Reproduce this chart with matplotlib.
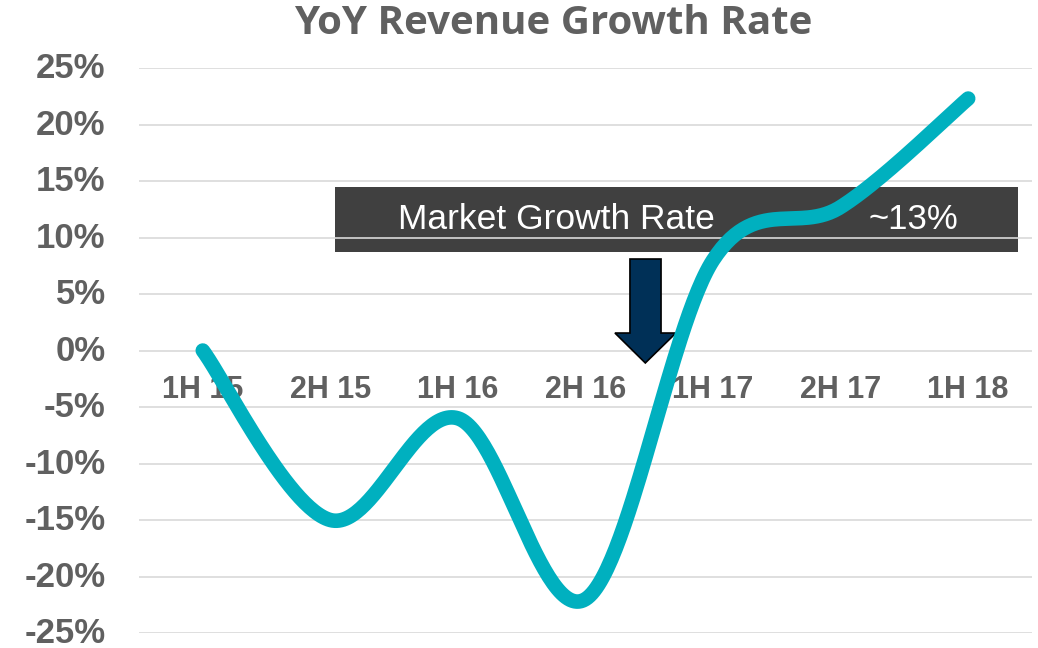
import numpy as np
import matplotlib
matplotlib.use("Agg")
import matplotlib.pyplot as plt
import matplotlib.transforms as mtrans
from matplotlib.patches import Rectangle, Polygon

# chart data
periods = ["1H 15", "2H 15", "1H 16", "2H 16", "1H 17", "2H 17", "1H 18"]
growth = [0.0, -15.0, -6.0, -22.0, 8.0, 12.7, 22.3]
y_ticks = [-25, -20, -15, -10, -5, 0, 5, 10, 15, 20, 25]
market_label = "Market Growth Rate"
market_value = "~13%"

grey = "#606060"
teal = "#00B0BF"


def smooth_line(xs, ys, steps=60):
    """Excel style smoothed line: cubic bezier through every point."""
    pts = np.column_stack([xs, ys]).astype(float)
    n = len(pts)
    out = []
    t = np.linspace(0, 1, steps)[:, None]
    for i in range(n - 1):
        p0 = pts[max(i - 1, 0)]
        p1 = pts[i]
        p2 = pts[i + 1]
        p3 = pts[min(i + 2, n - 1)]
        c1 = p1 + (p2 - p0) / 6.0
        c2 = p2 - (p3 - p1) / 6.0
        seg = ((1 - t) ** 3) * p1 + 3 * ((1 - t) ** 2) * t * c1 \
            + 3 * (1 - t) * t ** 2 * c2 + t ** 3 * p2
        out.append(seg if i == 0 else seg[1:])
    out = np.vstack(out)
    return out[:, 0], out[:, 1]


fig = plt.figure(figsize=(10.38, 6.48), dpi=100)
ax = fig.add_axes([0.1339, 0.0231, 0.8603, 0.8719])

x = np.arange(len(periods))
ax.set_xlim(-0.5, len(periods) - 0.5)
ax.set_ylim(-25, 25)

# grid lines
for v in y_ticks:
    ax.axhline(v, color="#d9d9d9", lw=1.2, zorder=1.5)

# market growth box (behind gridlines)
ax.add_patch(Rectangle((0.2195, 0.674), 0.7645, 0.115, transform=ax.transAxes,
                       facecolor="#404040", edgecolor="none", zorder=1))
ax.text(0.467, 0.715, market_label, transform=ax.transAxes, ha="center",
        va="baseline", color="white", fontsize=25.5, family="Liberation Sans",
        zorder=4)
ax.text(0.867, 0.715, market_value, transform=ax.transAxes, ha="center",
        va="baseline", color="white", fontsize=25, family="Liberation Sans",
        zorder=4)

# down arrow
arrow_pts = [(0.5498, 0.662), (0.5846, 0.662), (0.5846, 0.531), (0.6013, 0.531),
             (0.567, 0.478), (0.533, 0.531), (0.5498, 0.531)]
ax.add_patch(Polygon(arrow_pts, closed=True, transform=ax.transAxes,
                     facecolor="#003057", edgecolor="black", lw=1.2, zorder=2))

# smoothed growth line
sx, sy = smooth_line(x, growth)
ax.plot(sx, sy, color=teal, lw=10.5, solid_capstyle="round", zorder=3)

# category labels sit just under the 0% line
for i, lab in enumerate(periods):
    ax.text(i, -3.45, lab, ha="center", va="center", fontsize=22,
            fontweight="bold", color=grey, family="Liberation Sans", zorder=2.5)

ax.set_xticks([])
ax.set_yticks(y_ticks)
ax.set_yticklabels([f"{v}%" for v in y_ticks], fontsize=25, fontweight="bold",
                   color=grey, family="Liberation Sans")
ax.tick_params(axis="y", length=0, pad=24)
# nudge the y labels up a touch so the bottom one stays inside the figure
shift = mtrans.ScaledTranslation(0, 3 / 100, fig.dpi_scale_trans)
for lab in ax.get_yticklabels():
    lab.set_transform(lab.get_transform() + shift)
for s in ax.spines.values():
    s.set_visible(False)

fig.text(0.533, 0.963, "YoY Revenue Growth Rate", ha="center", va="center",
         fontsize=29, fontweight="bold", color=grey, family="Open Sans")

fig.savefig("out.png", dpi=100)
